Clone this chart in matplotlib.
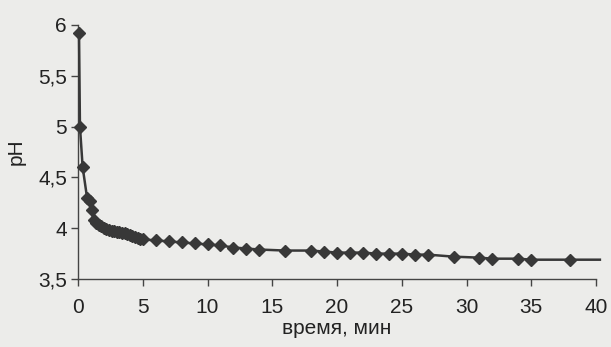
import matplotlib
matplotlib.use("Agg")
import matplotlib.pyplot as plt
from matplotlib.ticker import FuncFormatter

time_min = [0.08, 0.15, 0.36, 0.7, 0.9, 1.05, 1.2, 1.4, 1.6, 1.8, 2.0, 2.2, 2.4, 2.6,
            2.8, 3.0, 3.2, 3.4, 3.6, 3.8, 4.0, 4.2, 4.4, 4.6, 4.8, 5.0, 6, 7, 8, 9,
            10, 11, 12, 13, 14, 16, 18, 19, 20, 21, 22, 23, 24, 25, 26, 27, 29, 31,
            32, 34, 35, 38, 40.3]
ph = [5.92, 5.0, 4.6, 4.3, 4.27, 4.18, 4.08, 4.05, 4.03, 4.02, 4.00, 3.99, 3.98, 3.97,
      3.97, 3.96, 3.96, 3.95, 3.95, 3.94, 3.93, 3.92, 3.91, 3.90, 3.89, 3.89, 3.88, 3.87,
      3.86, 3.85, 3.84, 3.83, 3.81, 3.80, 3.79, 3.78, 3.78, 3.77, 3.76, 3.76, 3.76, 3.75,
      3.75, 3.75, 3.74, 3.74, 3.72, 3.71, 3.70, 3.70, 3.69, 3.69, 3.69]

x_ticks = [0, 5, 10, 15, 20, 25, 30, 35, 40]
y_ticks = [3.5, 4.0, 4.5, 5.0, 5.5, 6.0]
x_label = "время, мин"
y_label = "pH"

plt.rcParams['font.family'] = ['Liberation Sans', 'DejaVu Sans']
bg = "#ececea"
fig = plt.figure(figsize=(6.11, 3.47), dpi=100, facecolor=bg)
ax = fig.add_axes([78/611, 1-279/347, (596-78)/611, (279-25)/347])
ax.set_facecolor(bg)

col = "#383838"
ax.plot(time_min, ph, color=col, lw=1.8, marker='D', markersize=6.2,
        markevery=list(range(len(time_min) - 1)), clip_on=False, zorder=3)

ax.set_xlim(0, 40)
ax.set_ylim(3.5, 6.0)
ax.set_xticks(x_ticks)
ax.set_yticks(y_ticks)
ax.yaxis.set_major_formatter(FuncFormatter(lambda v, p: (f"{v:g}").replace('.', ',')))
for s in ['top', 'right']:
    ax.spines[s].set_visible(False)
for s in ['left', 'bottom']:
    ax.spines[s].set_color("#444444")
    ax.spines[s].set_linewidth(1.0)
ax.tick_params(direction='out', length=5, width=1.0, color="#444444",
               labelsize=15, labelcolor="#222222")
ax.tick_params(axis='x', pad=9)
ax.tick_params(axis='y', pad=3)
ax.set_xlabel(x_label, fontsize=15, color="#222222", labelpad=1)
ax.set_ylabel(y_label, fontsize=15, color="#222222", labelpad=9)

fig.savefig("out.png", dpi=100, facecolor=bg)
